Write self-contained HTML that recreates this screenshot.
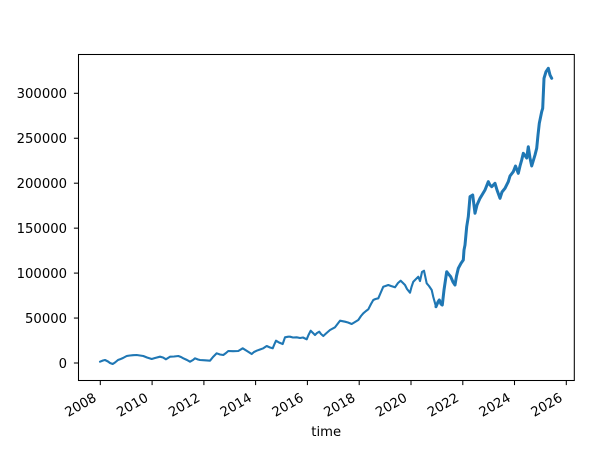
<!DOCTYPE html>
<html><head><meta charset="utf-8"><style>
html,body{margin:0;padding:0;background:#fff;}
svg{display:block;}
text{font-family:"DejaVu Sans","Liberation Sans",sans-serif;font-size:13.2px;fill:#000;}
</style></head><body>
<svg width="607" height="466" viewBox="0 0 607 466" xmlns="http://www.w3.org/2000/svg">
<rect width="607" height="466" fill="#fff"/>
<g fill="none" stroke="#1f77b4" stroke-linejoin="round" stroke-linecap="round">
<polyline stroke-width="2.1" points="100,361.7 103,360.5 105,360 108,361.5 110,363 112.7,364 115,362.5 118,360 120,359.3 123,358 126.7,356 130,355.5 133,355.2 136.7,355 140,355.5 143.3,356 147,357.5 151.7,359 155,358 160,356.7 163,357.5 166,359.3 168,358 170,356.7 174,356.5 178.3,356 181,357 183.3,358.3 187,360 190,361.7 193,360 195,358.3 198,359.5 200,360 205,360.3 210,360.7 213,357 216.7,353.3 220,354.5 223.3,355 226,353 228.3,351 233,351.2 238.3,351 242.7,348.3 247,351 251.7,354 254,352 256.7,350.7 260,349.5 263.3,348.3 266.7,346 270,347.5 272.7,348.3 274.5,344 276,340.7 279,342.5 282.7,344 285,337.3 288.3,336.7 290,336.7 293,337.5 296.7,337.3 300,338 303,337.5 306.7,339.3 308.5,335 310.7,330.7 313,333 315,335 317,333 319.3,331.7 321,334 323.3,336 326,333.5 330,330 335,327.3 337.5,324 340,320.7 345,321.7 348,322.5 351.7,324 355,322 358.3,320 361,316 363.3,313.3 366,311 368.3,309.3 371,304 373.3,300 375.5,299 378.3,298.3 381,292 383.3,286.7 385.5,286 388.3,285 391,286 395,287.3 398,283 400.7,280.7 403,283 405,285 407,289 410,292.7 411.5,287 413.3,281.7 416,279 418.3,276.7 420,281 422,272 424,270.7 426.7,283.3 429,286 431.7,290 433.3,297 436,306.7 438,302 439.3,300 441,304 442.3,305 444,290 446.7,271.7 448.5,274 450.7,276.7 453,282 455,285 456.5,276 458.3,268.3 461,263.3 463.3,260 464,250 465,245 466.7,226.7 468.3,216.7 470,196.7 472.7,195 475,213.3 477,205 480,198.3 482,195 485,190 488.3,181.7 490,185 491.7,186.7 495,183.3 497,190 500,198.3 502,192 505,188.3 508.3,181.7 510,176 513.3,171.7 515.5,166 518.3,173.3 520,166 521.7,160 523.3,153.3 526.7,158 528.3,146.7 530,158 531.7,166 533.5,160 535,155 536.7,148.3 538,135 539.3,123.3 541.7,111.7 542.7,108.3 543.5,90 544,78.3 546,71.7 548.3,68.3 550,75 551.7,78.3"/>
<polyline stroke-width="3" points="436,306.7 438,302 439.3,300 441,304 442.3,305 444,290 446.7,271.7 448.5,274 450.7,276.7 453,282 455,285 456.5,276 458.3,268.3 461,263.3 463.3,260 464,250 465,245 466.7,226.7 468.3,216.7 470,196.7 472.7,195 475,213.3 477,205 480,198.3 482,195 485,190 488.3,181.7 490,185 491.7,186.7 495,183.3 497,190 500,198.3 502,192 505,188.3 508.3,181.7 510,176 513.3,171.7 515.5,166 518.3,173.3 520,166 521.7,160 523.3,153.3 526.7,158 528.3,146.7 530,158 531.7,166 533.5,160 535,155 536.7,148.3 538,135 539.3,123.3 541.7,111.7 542.7,108.3 543.5,90 544,78.3 546,71.7 548.3,68.3 550,75 551.7,78.3"/>
</g>
<rect x="78.5" y="54.5" width="495.8" height="326" fill="none" stroke="#000" stroke-width="1.05"/>
<g stroke="#000" stroke-width="1.05">
<line x1="73.9" x2="78.5" y1="363" y2="363"/>
<line x1="73.9" x2="78.5" y1="318.05" y2="318.05"/>
<line x1="73.9" x2="78.5" y1="273.1" y2="273.1"/>
<line x1="73.9" x2="78.5" y1="228.15" y2="228.15"/>
<line x1="73.9" x2="78.5" y1="183.2" y2="183.2"/>
<line x1="73.9" x2="78.5" y1="138.25" y2="138.25"/>
<line x1="73.9" x2="78.5" y1="93.3" y2="93.3"/>
<line x1="100.3" x2="100.3" y1="380.5" y2="385.1"/>
<line x1="152.1" x2="152.1" y1="380.5" y2="385.1"/>
<line x1="203.9" x2="203.9" y1="380.5" y2="385.1"/>
<line x1="255.6" x2="255.6" y1="380.5" y2="385.1"/>
<line x1="307.4" x2="307.4" y1="380.5" y2="385.1"/>
<line x1="359.2" x2="359.2" y1="380.5" y2="385.1"/>
<line x1="411.0" x2="411.0" y1="380.5" y2="385.1"/>
<line x1="462.8" x2="462.8" y1="380.5" y2="385.1"/>
<line x1="514.5" x2="514.5" y1="380.5" y2="385.1"/>
<line x1="566.3" x2="566.3" y1="380.5" y2="385.1"/>
</g>
<g text-anchor="end">
<text x="67" y="367.8">0</text>
<text x="67" y="322.85">50000</text>
<text x="67" y="277.9">100000</text>
<text x="67" y="232.95">150000</text>
<text x="67" y="188">200000</text>
<text x="67" y="143.05">250000</text>
<text x="67" y="98.1">300000</text>
</g>
<g text-anchor="end">
<text transform="translate(97.3,400.3) rotate(-30)">2008</text>
<text transform="translate(149.1,400.3) rotate(-30)">2010</text>
<text transform="translate(200.9,400.3) rotate(-30)">2012</text>
<text transform="translate(252.6,400.3) rotate(-30)">2014</text>
<text transform="translate(304.4,400.3) rotate(-30)">2016</text>
<text transform="translate(356.2,400.3) rotate(-30)">2018</text>
<text transform="translate(408.0,400.3) rotate(-30)">2020</text>
<text transform="translate(459.8,400.3) rotate(-30)">2022</text>
<text transform="translate(511.5,400.3) rotate(-30)">2024</text>
<text transform="translate(563.3,400.3) rotate(-30)">2026</text>
</g>
<text x="326.2" y="436" text-anchor="middle">time</text>
</svg>
</body></html>
